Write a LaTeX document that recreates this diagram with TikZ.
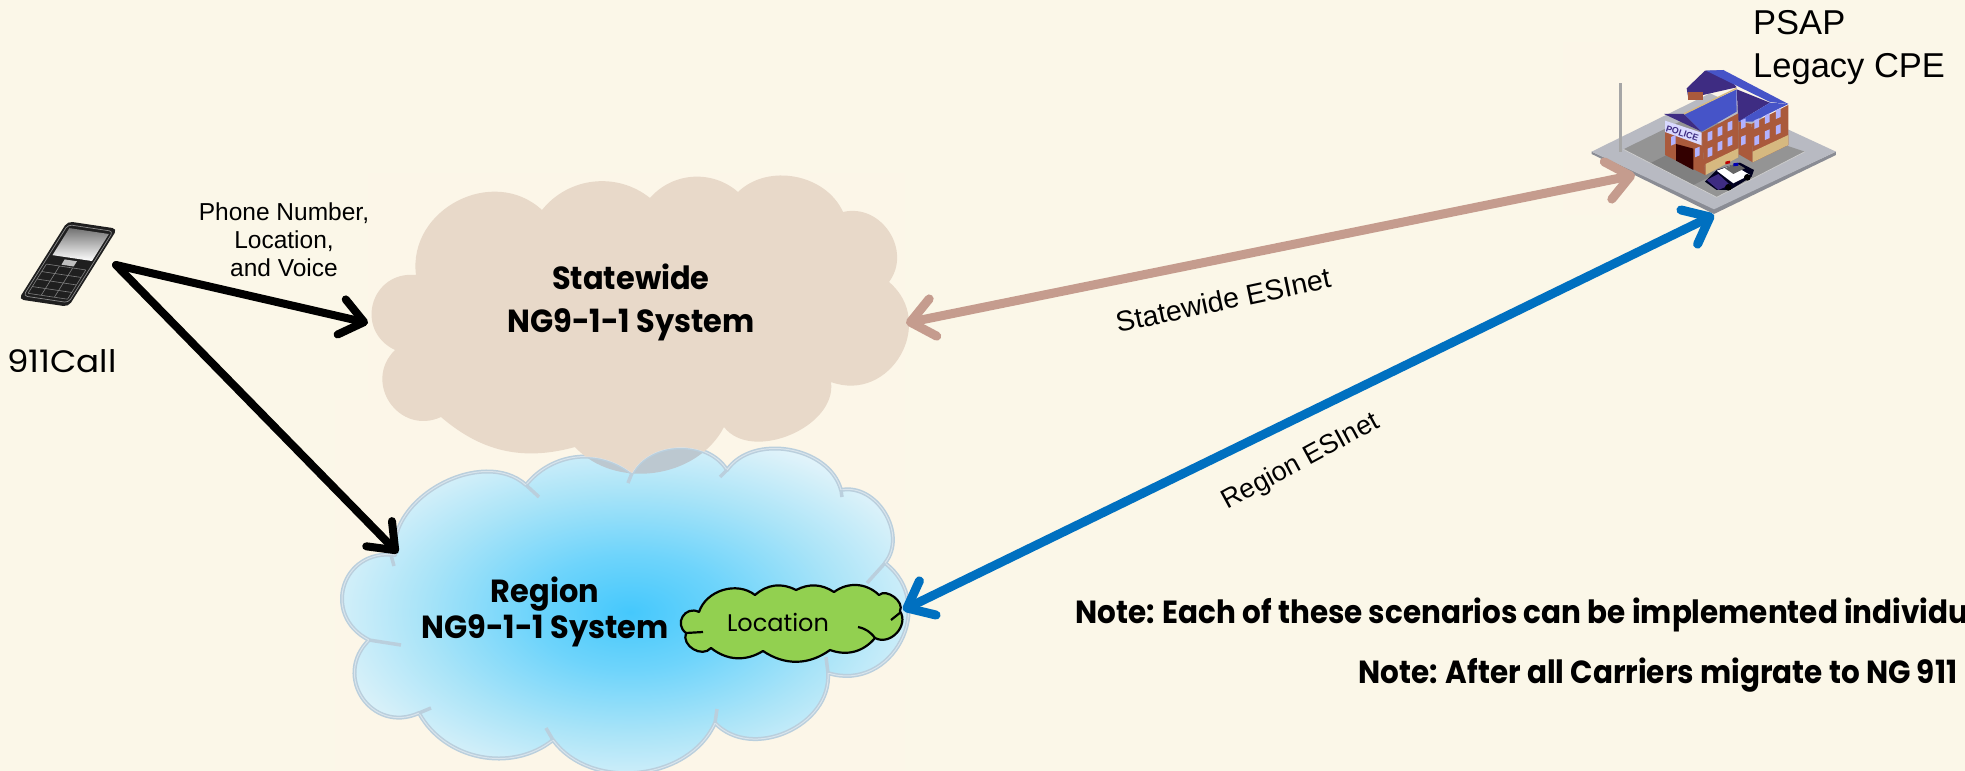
\documentclass[tikz,border=0pt]{standalone}
\usepackage{fontspec}
\setmainfont{Liberation Sans}
\newfontfamily\gothic{Poppins}
\usetikzlibrary{arrows.meta}
\definecolor{pagebg}{RGB}{251,247,232}
\definecolor{patchbg}{RGB}{252,246,232}
\definecolor{tancloud}{RGB}{232,217,201}
\definecolor{overlapc}{RGB}{188,200,208}
\definecolor{blueedge}{RGB}{186,207,221}
\definecolor{tanarrow}{RGB}{197,156,142}
\definecolor{bluearrow}{RGB}{0,112,192}
\definecolor{greencloud}{RGB}{146,208,80}
\definecolor{roofblue}{RGB}{70,84,200}
\definecolor{roofdark}{RGB}{62,44,130}
\definecolor{brick}{RGB}{170,90,60}
\definecolor{bandtan}{RGB}{214,185,128}
\definecolor{plinth}{RGB}{184,186,194}
\definecolor{plinthdark}{RGB}{138,140,148}
\definecolor{shadeA}{RGB}{69,200,252}
\definecolor{shadeB}{RGB}{110,212,251}
\definecolor{shadeC}{RGB}{170,228,248}
\definecolor{shadeD}{RGB}{232,245,250}
\definecolor{shadeE}{RGB}{240,248,250}
\pgfdeclareradialshading{bluerad}{\pgfpointorigin}{color(0bp)=(shadeA);color(8bp)=(shadeB);color(17bp)=(shadeC);color(27bp)=(shadeD);color(50bp)=(shadeE)}
\def\statepath{(416,275) to[bend left=70,looseness=1.2] (542,210) to[bend left=45] (650,198) to[bend left=45] (738,192) to[bend left=55] (843,212) to[bend left=70,looseness=1.2] (889,282) to[bend left=80,looseness=1.4] (831,382) to[bend left=75] (724,427) to[bend left=55] (575,447) to[bend left=28] (441,417) to[bend left=80,looseness=1.45] (395,350) to[bend left=80,looseness=1.5] cycle}
\def\bluepath{(395,555) to[bend left=70] (526,485) to[bend left=45] (632,473) to[bend left=60] (727,470) to[bend left=65] (841,490) to[bend left=70,looseness=1.1] (885,563) to[bend left=80,looseness=1.4] (828,673) to[bend left=70,looseness=1.1] (715,723) to[bend left=60] (553,740) to[bend left=50] (419,713) to[bend left=80,looseness=1.5] (369,640) to[bend left=80,looseness=1.55] cycle}
\def\greenpath{(699,612) to[bend left=55] (755,595) to[bend left=35] (796,590) to[bend left=30] (834,592) to[bend left=40] (879,595) to[bend left=80] (900,611) to[bend left=75,looseness=1.2] (875,638) to[bend left=35] (830,650) to[bend left=35] (763,651) to[bend left=35] (711,648) to[bend left=80,looseness=1.2] (686,633) to[bend left=85,looseness=1.6] cycle}
\tikzset{
  link/.style={line cap=round,-{Straight Barb[length=23pt,width=36pt,round]}},
  twolink/.style={line cap=round,{Straight Barb[length=23pt,width=38pt,round]}-{Straight Barb[length=23pt,width=38pt,round]}},
  callarrow/.style={link,draw=black,line width=8pt},
  statearrow/.style={twolink,draw=tanarrow,line width=9pt},
  regionarrow/.style={twolink,draw=bluearrow,line width=9pt},
  holder/.style={inner sep=0pt,outer sep=0pt},
  arial/.style={font=\fontsize{24.5}{28}\selectfont,align=center,inner sep=0pt},
  cloudtitle/.style={font=\gothic\bfseries\fontsize{32}{43}\selectfont,align=center,inner sep=0pt,xscale=.95},
  notetext/.style={font=\gothic\bfseries\fontsize{32}{35}\selectfont,inner sep=0pt,anchor=west,xscale=.92},
  tail/.style={draw=blueedge,line width=3.5pt},
  greentail/.style={draw=black,line width=2.2pt},
}
\begin{document}
\begin{tikzpicture}[x=1pt,y=-1pt]
\useasboundingbox (0,0) rectangle (1965,771);
\fill[pagebg] (0,0) rectangle (1965,771);
% faint picture patches behind the artwork
\fill[patchbg] (335,400) rectangle (905,771);
\fill[patchbg] (368,173) rectangle (905,400);
\fill[patchbg] (1563,42) rectangle (1860,215);
% anchors
\node[holder,minimum width=94pt,minimum height=84pt] (phone) at (69,265) {};
\node[holder,minimum width=538pt,minimum height=296pt] (statecloud) at (637,323) {};
\node[holder,minimum width=565pt,minimum height=301pt] (regioncloud) at (622,620) {};
\node[holder,minimum width=244pt,minimum height=146pt] (psap) at (1714,142) {};
\coordinate (regionentry) at (398,553);
\coordinate (locationedge) at (903,610);
\coordinate (psapside) at (1635,175);
% region cloud
\shade[shading=bluerad] \bluepath;
\begin{scope}
  \clip \bluepath;
  \fill[overlapc] \statepath;
\end{scope}
\draw[blueedge,line width=4pt,line join=round] \bluepath;
\draw[white,opacity=.45,line width=1pt,line join=round] \bluepath;
\draw[tail] (391,555)--(394,566) (526,485)--(539,497) (632,473)--(628,483) (727,470)--(720,477) (841,490)--(842,497) (885,563)--(867,583) (828,673)--(826,657) (715,723)--(717,709) (553,740)--(546,728) (419,713)--(431,708) (369,640)--(401,645);
% statewide cloud (only outside the region cloud)
\begin{scope}[even odd rule]
  \clip (0,0) rectangle (1965,771) \bluepath;
  \fill[tancloud] \statepath;
\end{scope}
% green cloud
\draw[fill=greencloud,draw=black,line width=2.2pt,line join=round] \greenpath;
\draw[greentail] (703,632)--(686,633) (891,620)--(901,612) (858,627) to[bend left=20] (875,638);
% titles
\node[cloudtitle] (statetitle) at (631,302) {Statewide\\NG9-1-1 System};
\node[cloudtitle,font=\gothic\bfseries\fontsize{32}{36}\selectfont] (regiontitle) at (545,612) {Region\\NG9-1-1 System};
\node[font=\gothic\fontsize{24}{28}\selectfont,inner sep=0pt] (locationlabel) at (778,622) {Location};
% phone
\begin{scope}[shift={(68,223)},x={(47pt,-7pt)},y={(-47pt,-75pt)}]
  \fill[black!88,rounded corners=5pt] (-.03,-.02)--(1.03,-.02)--(1.03,1.02)--(-.03,1.02)--cycle;
  \draw[black!45,line width=.7pt,rounded corners=4pt] (.02,.02)--(.98,.02)--(.98,.97)--(.02,.97)--cycle;
  \shade[top color=black!55,bottom color=white] (.09,.06)--(.93,.06)--(.93,.42)--(.09,.42)--cycle;
  \fill[black!25] (.38,.45)--(.64,.45)--(.64,.52)--(.38,.52)--cycle;
  \draw[black!50,line width=.6pt] (.08,.54)--(.92,.54) (.08,.64)--(.92,.64) (.08,.74)--(.92,.74) (.08,.84)--(.92,.84) (.08,.93)--(.92,.93) (.08,.54)--(.08,.93) (.36,.54)--(.36,.93) (.64,.54)--(.64,.93) (.92,.54)--(.92,.93);
\end{scope}
% building
\begin{scope}[shift={(1560,0)},x=.3333pt,y=-.3333pt]
  \fill[plinthdark] (95,455)--(462,625)--(828,455)--(828,465)--(462,642)--(95,462)--cycle;
  \fill[plinth] (95,455)--(450,280)--(828,455)--(462,628)--cycle;
  \fill[black!42] (190,448)--(400,345)--(735,455)--(470,592)--cycle;
  \fill[black!50] (270,490)--(340,455)--(470,520)--(400,555)--cycle;
  \draw[white!80!black,line width=.8pt] (190,448)--(470,592)--(735,455);
  \draw[black!35,line width=3pt] (180,250)--(180,455);
  % back wing
  \fill[roofdark] (380,265)--(435,212)--(490,212)--(530,262)--(385,295)--cycle;
  \fill[brick] (385,275)--(430,275)--(430,300)--(385,300)--cycle;
  \fill[roofblue] (438,212)--(490,210)--(685,312)--(630,306)--cycle;
  % right wing
  \fill[brick] (535,365)--(575,372)--(578,487)--(535,462)--cycle;
  \fill[brick] (575,372)--(685,315)--(685,435)--(578,487)--cycle;
  \fill[bandtan] (578,455)--(685,405)--(685,435)--(578,487)--cycle;
  \fill[roofdark] (530,268)--(630,308)--(535,365)--cycle;
  \fill[roofblue] (630,308)--(685,312)--(578,365)--(535,365)--cycle;
  % front wing
  \fill[brick] (315,365)--(425,398)--(435,525)--(315,465)--cycle;
  \fill[brick] (425,398)--(535,340)--(535,470)--(435,525)--cycle;
  \fill[bandtan] (437,492)--(535,445)--(535,472)--(437,525)--cycle;
  \fill[black!80!red] (348,432)--(400,446)--(400,510)--(348,482)--cycle;
  \fill[white!85!blue] (315,362)--(425,398)--(425,436)--(315,396)--cycle;
  \node[holder,rotate=-18,font=\bfseries\fontsize{9}{9}\selectfont,text=roofdark] (policesign) at (367,400) {POLICE};
  \fill[roofdark] (312,342)--(372,342)--(425,395)--cycle;
  \fill[roofblue] (372,342)--(530,268)--(530,335)--(425,395)--cycle;
  \draw[bandtan,line width=1.4pt] (372,342)--(530,265);
  % windows
  \foreach \wx/\wy in {450/412,480/398,510/382,450/460,480/442,510/428,590/375,622/360,655/345,590/425,622/408,655/392,550/375,550/425,340/425,412/460}
    \fill[white!70!blue] (\wx-7,\wy-14)--(\wx+7,\wy-20)--(\wx+7,\wy+6)--(\wx-7,\wy+12)--cycle;
  % car
  \fill[black!88!blue] (435,545)--(470,510)--(540,488)--(582,510)--(575,530)--(510,570)--(470,570)--cycle;
  \fill[white] (470,512)--(520,495)--(570,525)--(520,550)--cycle;
  \fill[roofdark] (440,540)--(475,522)--(510,555)--(475,570)--cycle;
  \fill[black!60] (495,505)--(530,490)--(555,505)--(520,522)--cycle;
  \fill[red!75!black] (496,485)--(510,482)--(510,490)--(496,493)--cycle;
  \fill[blue!70!black] (520,490)--(535,488)--(535,497)--(520,499)--cycle;
  \fill[black] (505,562) circle[radius=10];
  \fill[black] (562,532) circle[radius=10];
\end{scope}
% connectors
\draw[callarrow] (phone.east) -- (statecloud.west);
\draw[callarrow] (phone.east) -- (regionentry);
\draw[statearrow] (statecloud.east) -- (psapside);
\draw[regionarrow] (locationedge) -- (psap.south);
% labels
\node[arial] (calllabel) at (284,240) {Phone Number,\\Location,\\and Voice};
\node[font=\gothic\fontsize{31}{36}\selectfont,inner sep=0pt,xscale=1.1] (phonelabel) at (62,361) {911Call};
\node[font=\fontsize{34.5}{43}\selectfont,align=left,inner sep=0pt,anchor=north west] (psaplabel) at (1753,10) {PSAP\\Legacy CPE};
\node[rotate=12,font=\fontsize{28.5}{30}\selectfont,inner sep=0pt] (statelink) at (1223,300) {Statewide ESInet};
\node[rotate=28.5,font=\fontsize{27}{30}\selectfont,inner sep=0pt] (regionlink) at (1301,462) {Region ESInet};
\node[notetext] (noteone) at (1075,615) {Note: Each of these scenarios can be implemented individu};
\node[notetext] (notetwo) at (1358,675) {Note: After all Carriers migrate to NG 911};
\end{tikzpicture}
\end{document}
